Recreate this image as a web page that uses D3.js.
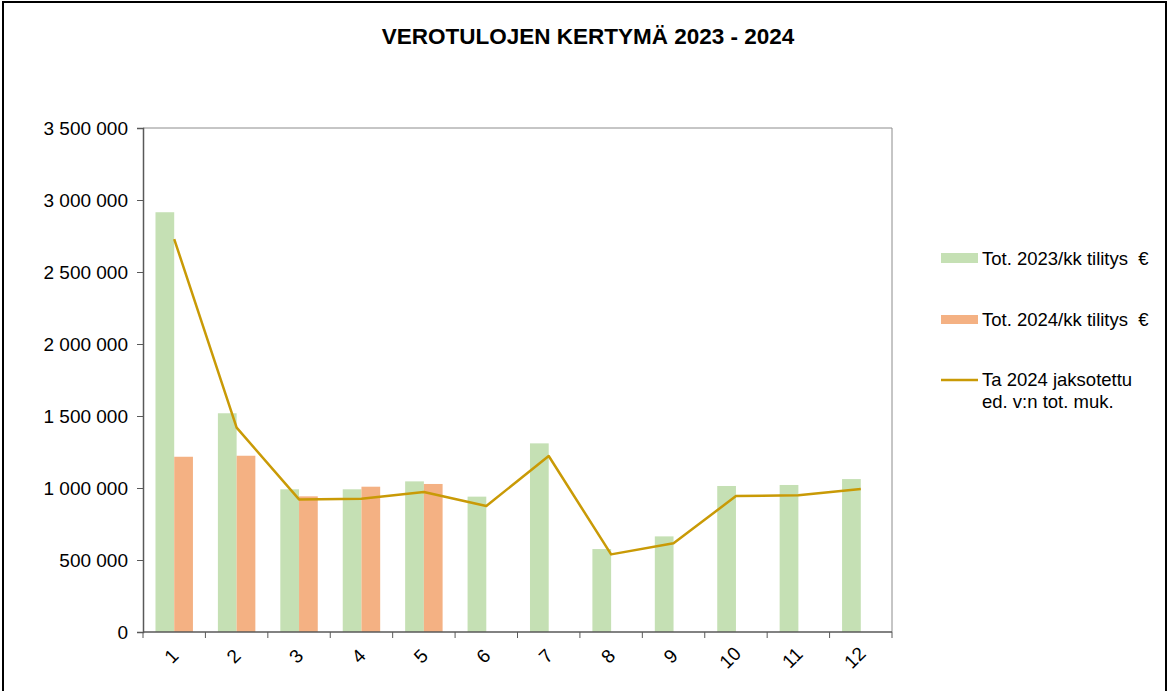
<!DOCTYPE html>
<html lang="en">
<head>
<meta charset="utf-8">
<style>
  body { margin: 0; background: white; }
  svg { font-family: 'Liberation Sans', Arial, sans-serif; }
  .axis text { fill: #000; font-size: 19px; }
  .axis path, .axis line { stroke: #595959; }
  .legend text { white-space: pre; }
</style>
</head>
<body>
<svg width="1170" height="691"></svg>
<script src="https://d3js.org/d3.v7.min.js"></script>
<script>
// data
const months = ["1", "2", "3", "4", "5", "6", "7", "8", "9", "10", "11", "12"]
const tot2023 = [2915000, 1519000, 991000, 991000, 1046000, 940000, 1310000, 576000, 664000, 1014000, 1021000, 1062000]
const tot2024 = [1217000, 1224000, 942000, 1009000, 1028000]
const ta2024 = [2729000, 1419000, 921000, 926000, 972000, 875000, 1222000, 539000, 616000, 944000, 949000, 993000]
const yTicks = [0, 500000, 1000000, 1500000, 2000000, 2500000, 3000000, 3500000]
const seriesNames = ["Tot. 2023/kk tilitys  \u20ac", "Tot. 2024/kk tilitys  \u20ac", ["Ta 2024 jaksotettu", "ed. v:n tot. muk."]]

const colGreen = "#c5e0b4"
const colOrange = "#f4b183"
const colLine = "#c99a06"

const svg = d3.select("svg")
const plot = { left: 143, right: 892, top: 128, bottom: 632 }

// outer frame
svg.append("rect")
  .attr("x", 3).attr("y", 2)
  .attr("width", 1163).attr("height", 720)
  .attr("fill", "none").attr("stroke", "#000").attr("stroke-width", 2)

svg.append("text")
  .attr("x", 588).attr("y", 44)
  .attr("text-anchor", "middle")
  .attr("font-size", "22.5px").attr("font-weight", "bold")
  .text("VEROTULOJEN KERTYMÄ 2023 - 2024")

const x = d3.scaleBand().domain(months).range([plot.left, plot.right]).padding(0)
const y = d3.scaleLinear().domain([0, 3500000]).range([plot.bottom, plot.top])
const bw = x.bandwidth() * 0.3

// plot frame (top + right)
svg.append("path")
  .attr("d", `M${plot.left},${plot.top}H${plot.right}V${plot.bottom}`)
  .attr("fill", "none").attr("stroke", "#8c8c8c").attr("stroke-width", 1)

const fmt = d => d3.format(",")(d).replace(/,/g, " ")

svg.append("g")
  .attr("class", "axis")
  .attr("transform", `translate(${plot.left},0)`)
  .call(d3.axisLeft(y).tickValues(yTicks).tickFormat(fmt).tickSize(6).tickPadding(9))
  .call(g => g.select(".domain").attr("stroke-width", 1.5))

// bars
svg.append("g").selectAll("rect")
  .data(tot2023)
  .join("rect")
  .attr("x", (d, i) => x(months[i]) + x.bandwidth() / 2 - bw)
  .attr("y", d => y(d))
  .attr("width", bw)
  .attr("height", d => y(0) - y(d))
  .attr("fill", colGreen)

svg.append("g").selectAll("rect")
  .data(tot2024)
  .join("rect")
  .attr("x", (d, i) => x(months[i]) + x.bandwidth() / 2)
  .attr("y", d => y(d))
  .attr("width", bw)
  .attr("height", d => y(0) - y(d))
  .attr("fill", colOrange)

// x axis with ticks on category boundaries
const xAxisG = svg.append("g")
  .attr("class", "axis")
  .attr("transform", `translate(0,${plot.bottom})`)
xAxisG.append("line")
  .attr("x1", plot.left).attr("x2", plot.right)
  .attr("stroke", "#595959").attr("stroke-width", 1.5)
xAxisG.selectAll("line.tk")
  .data(months.concat(["end"]))
  .join("line")
  .attr("class", "tk")
  .attr("x1", (d, i) => plot.left + i * x.bandwidth())
  .attr("x2", (d, i) => plot.left + i * x.bandwidth())
  .attr("y1", 0).attr("y2", 6)
xAxisG.selectAll("text")
  .data(months)
  .join("text")
  .attr("transform", d => `translate(${x(d) + x.bandwidth() / 2 - 3 - (d.length - 1) * 3},${24 + (d.length - 1) * 1.5}) rotate(-45)`)
  .attr("text-anchor", "middle")
  .attr("dy", "0.35em")
  .text(d => d)

// line
const line = d3.line()
  .x((d, i) => x(months[i]) + x.bandwidth() / 2)
  .y(d => y(d))
svg.append("path")
  .datum(ta2024)
  .attr("d", line)
  .attr("fill", "none")
  .attr("stroke", colLine)
  .attr("stroke-width", 2.5)
  .attr("stroke-linejoin", "round")

// legend
const lg = svg.append("g").attr("class", "legend").attr("font-size", "18.5px")
lg.append("rect").attr("x", 941).attr("y", 253).attr("width", 37).attr("height", 10).attr("fill", colGreen)
lg.append("text").attr("x", 982).attr("y", 259).attr("dy", "0.35em").text(seriesNames[0])
lg.append("rect").attr("x", 941).attr("y", 315).attr("width", 37).attr("height", 9).attr("fill", colOrange)
lg.append("text").attr("x", 982).attr("y", 320).attr("dy", "0.35em").text(seriesNames[1])
lg.append("line").attr("x1", 941).attr("x2", 978).attr("y1", 380).attr("y2", 380)
  .attr("stroke", colLine).attr("stroke-width", 2.5)
lg.append("text").attr("x", 982).attr("y", 380).attr("dy", "0.35em").text(seriesNames[2][0])
lg.append("text").attr("x", 982).attr("y", 402).attr("dy", "0.35em").text(seriesNames[2][1])
</script>
</body>
</html>
